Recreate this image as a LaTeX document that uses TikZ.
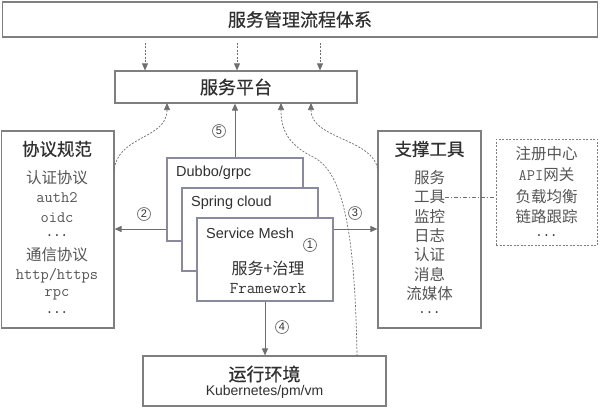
\documentclass[tikz,border=0pt]{standalone}
\usepackage{fontspec}
\setmainfont{Liberation Sans}
\newfontfamily\cjk{Noto Sans CJK SC}
\newfontfamily\cjkb[FakeBold=0.6]{Noto Sans CJK SC}
\usetikzlibrary{arrows.meta,calc}
\definecolor{boxc}{HTML}{7F7F7F}
\definecolor{stackc}{HTML}{8A8A9E}
\definecolor{linec}{HTML}{6E6E6E}
\definecolor{txt}{HTML}{303030}
\definecolor{itm}{HTML}{555555}
\newcommand{\fsz}[1]{\fontsize{#1}{#1}\selectfont}
\begin{document}
\begin{tikzpicture}[x=1pt,y=-1pt,
  box/.style={draw=boxc, line width=1.2pt, fill=white, inner sep=0pt},
  stackbox/.style={draw=stackc, line width=1.2pt, fill=white, inner sep=0pt, minimum width=136pt, minimum height=83pt},
  dbox/.style={draw=boxc, line width=0.8pt, dash pattern=on 2pt off 1.5pt, inner sep=0pt},
  title/.style={text=txt, font=\cjkb\fsz{18}, inner sep=0pt},
  subtitle/.style={text=txt, font=\cjkb\fsz{17.5}, inner sep=0pt},
  item/.style={text=itm, font=\cjk\fsz{15.5}, inner sep=0pt},
  mono/.style={text=itm, font=\ttfamily\fsz{16}, inner sep=0pt},
  dots/.style={text=txt, font=\ttfamily\bfseries\fsz{14}, inner sep=0pt},
  lat/.style={text=txt, font=\fsz{14.5}, inner sep=0pt, anchor=west},
  num/.style={circle, draw=linec, line width=0.7pt, minimum size=13pt, inner sep=0pt, text=txt, font=\fsz{11}},
  arr/.style={draw=linec, line width=1pt, -{Triangle[length=7pt,width=6pt]}},
  darr/.style={draw=linec, line width=0.7pt, dash pattern=on 2pt off 1.5pt, -{Triangle[length=7pt,width=6pt]}},
  dashdot/.style={draw=linec, line width=0.8pt, dash pattern=on 4pt off 2pt on 1pt off 2pt}
]
\useasboundingbox (0,0) rectangle (600,410);

% top and platform
\node[box, minimum width=595pt, minimum height=35pt] (top) at (300,19.5) {};
\node[title] (toptxt) at (300,19.5) {服务管理流程体系};
\node[box, minimum width=242pt, minimum height=32pt] (plat) at (236,87) {};
\node[title] (plattxt) at (236,87) {服务平台};

% left box
\node[box, minimum width=112.5pt, minimum height=197pt] (left) at (57.75,229.5) {};
\node[subtitle] (lt) at (57,149) {协议规范};
\node[item] (l1) at (57,178) {认证协议};
\node[mono] (l2) at (57,198) {auth2};
\node[mono] (l3) at (57,218) {oidc};
\node[dots] (l4) at (57,236) {...};
\node[item] (l5) at (57,255) {通信协议};
\node[mono] (l6) at (57,276) {http/https};
\node[mono] (l7) at (57,295) {rpc};
\node[dots] (l8) at (57,313) {...};

% right box
\node[box, minimum width=103pt, minimum height=197pt] (right) at (429.5,229.5) {};
\node[subtitle] (rt) at (429.5,149) {支撑工具};
\node[item] (r1) at (429.5,178) {服务};
\node[item] (r2) at (429.5,197) {工具};
\node[item] (r3) at (429.5,217) {监控};
\node[item] (r4) at (429.5,236) {日志};
\node[item] (r5) at (429.5,255) {认证};
\node[item] (r6) at (429.5,275) {消息};
\node[item] (r7) at (429.5,294) {流媒体};
\node[dots] (r8) at (429.5,313) {...};

% dashed box
\node[dbox, minimum width=101.5pt, minimum height=106pt] (dash) at (546.75,192) {};
\node[item] (d1) at (546.5,154) {注册中心};
\node[item] (d2) at (546.5,175) {{\ttfamily\fsz{16}API}网关};
\node[item] (d3) at (546.5,197) {负载均衡};
\node[item] (d4) at (546.5,217) {链路跟踪};
\node[dots] (d5) at (546.5,236) {...};
\draw[dashdot] (r2.east) -- (dash.west |- r2.east);

% stacked frameworks
\node[stackbox] (dubbo) at (235,199.5) {};
\node[lat] (dubbot) at (176,173) {Dubbo/grpc};
\node[stackbox] (spring) at (250,229.5) {};
\node[lat] (springt) at (191,203) {Spring cloud};
\node[stackbox] (mesh) at (265,259.5) {};
\node[lat] (mesht) at (206,233) {Service Mesh};
\node[text=txt, font=\cjk\fsz{16}, inner sep=0pt] (fw1) at (268,268) {服务+治理};
\node[text=txt, font=\ttfamily\fsz{16.5}, inner sep=0pt] (fw2) at (268,289) {Framework};
\node[num] (n1) at (310,245) {1};

% env
\node[box, minimum width=243pt, minimum height=50pt] (env) at (264.5,381) {};
\node[title] (envt) at (264.5,374) {运行环境};
\node[text=txt, font=\fsz{14}, inner sep=0pt] (envs) at (264.5,392) {Kubernetes/pm/vm};

% dashed arrows from top
\coordinate (xa) at (145,0);
\coordinate (xb) at (237,0);
\coordinate (xc) at (320,0);
\draw[darr, shorten <=5pt] (top.south -| xa) -- (plat.north -| xa);
\draw[darr, shorten <=5pt] (top.south -| xb) -- (plat.north -| xb);
\draw[darr, shorten <=5pt] (top.south -| xc) -- (plat.north -| xc);

% solid arrows
\coordinate (ya) at (0,229);
\draw[arr] (dubbo.north) -- (plat.south -| dubbo.north);
\node[num] (n5) at (219,131) {5};
\draw[arr] (dubbo.west |- ya) -- (left.east |- ya);
\node[num] (n2) at (144,214) {2};
\draw[arr] (mesh.east |- ya) -- (right.west |- ya);
\node[num] (n3) at (355,213) {3};
\draw[arr] (mesh.south) -- (env.north -| mesh.south);
\node[num] (n4) at (282,327) {4};

% dashed curves
\coordinate (c1s) at (114,172);
\coordinate (c1e) at (167,103);
\draw[darr] (c1s) .. controls (116,135) and (167,140) .. (c1e);
\coordinate (c2s) at (378,172);
\coordinate (c2e) at (311,103);
\draw[darr] (c2s) .. controls (376,138) and (311,140) .. (c2e);
\coordinate (c3s) at (357,356);
\coordinate (c3m) at (315,158);
\coordinate (c3e) at (281,103);
\draw[darr] (c3s) .. controls (355,240) and (345,175) .. (c3m) .. controls (288,145) and (281,130) .. (c3e);
\end{tikzpicture}
\end{document}
